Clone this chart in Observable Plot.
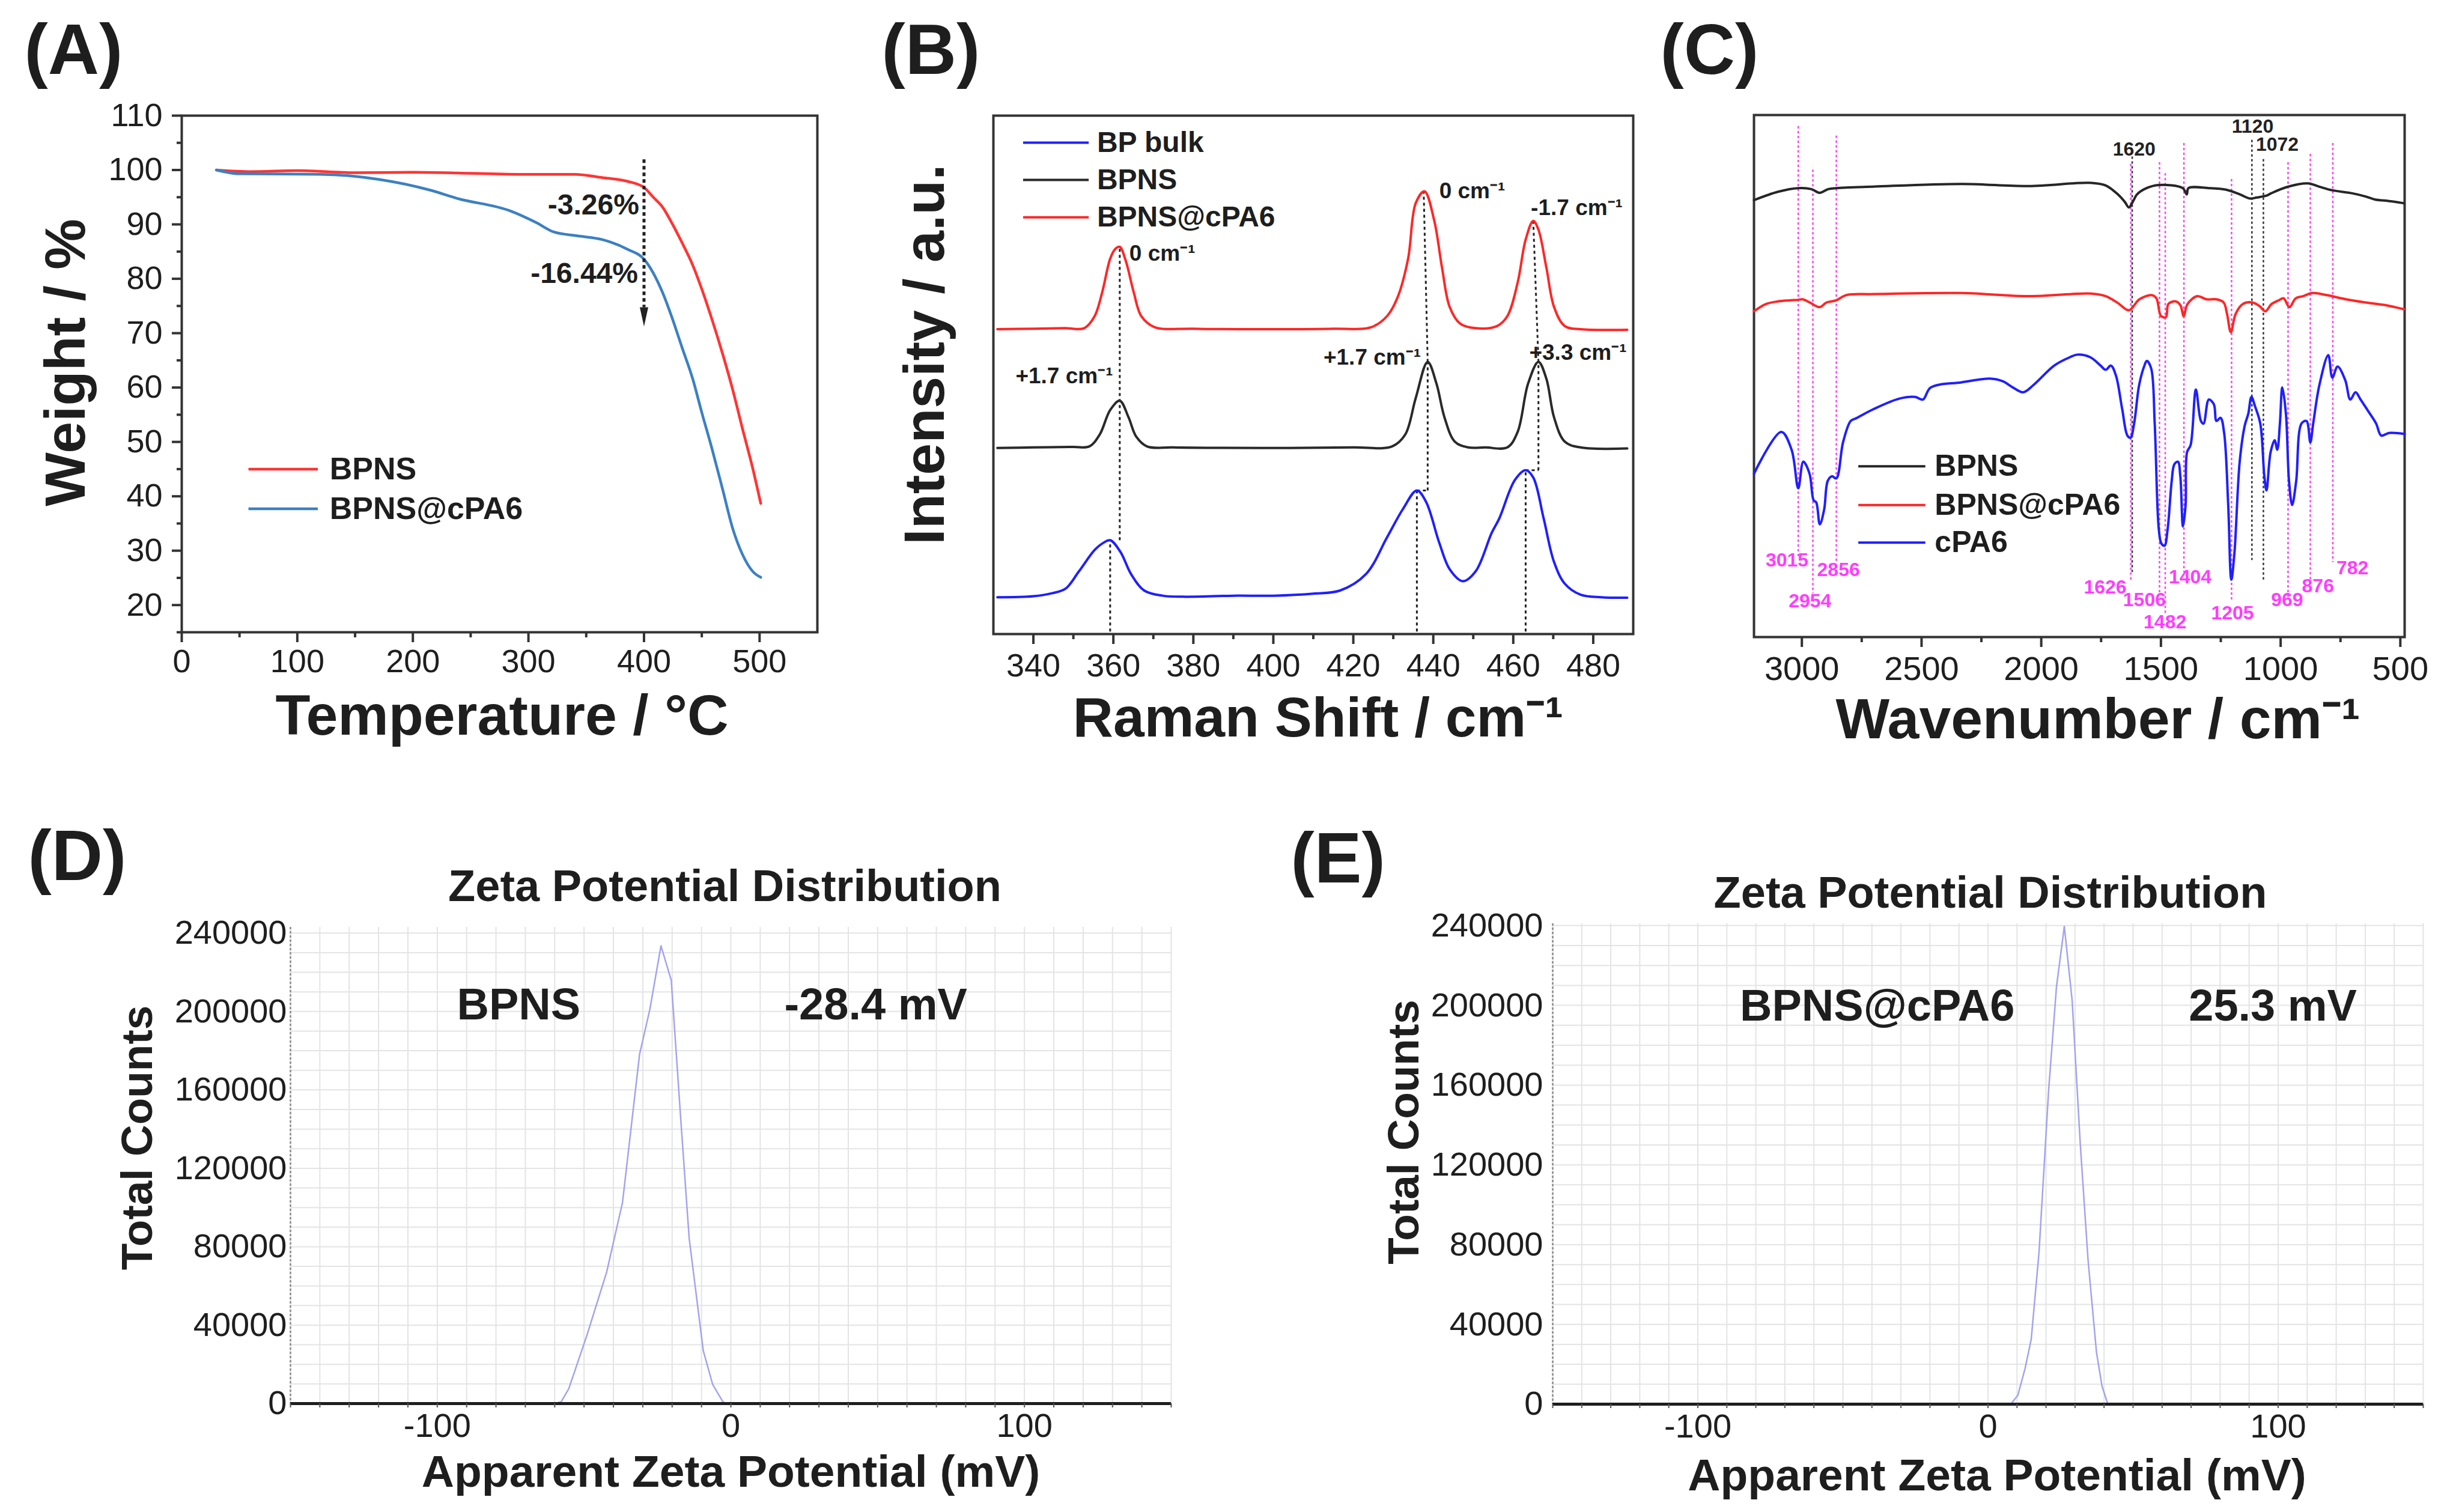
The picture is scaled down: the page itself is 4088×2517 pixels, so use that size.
<!DOCTYPE html>
<html><head><meta charset="utf-8">
<script src="https://cdn.jsdelivr.net/npm/d3@7"></script>
<script src="https://cdn.jsdelivr.net/npm/@observablehq/plot@0.6"></script>
<style>
html,body{margin:0;padding:0;background:#fff;}
#fig{position:relative;width:4088px;height:2517px;background:#fff;overflow:hidden;}
</style></head><body><div id="fig"></div>
<script>
// ---------------- DATA ----------------
// (A) TGA: [temperature °C, weight %]
const tgaBPNS = [[30,100.0],[60,99.7],[100,99.9],[150,99.5],[200,99.6],[250,99.4],[300,99.2],[340,99.2],[364,98.6],[386,97.9],[400,96.8],[408,95.0],[416,93.2],[424,90.3],[433,86.6],[442,82.6],[450,78.1],[459,72.4],[468,66.2],[477,59.4],[485,52.6],[494,45.2],[501,38.7]];
const tgaBPNScPA6 = [[30,100.0],[50,99.3],[120,99.2],[170,98.3],[215,96.3],[238,94.8],[284,92.5],[307,90.3],[322,88.6],[342,87.9],[364,87.2],[386,85.4],[400,83.6],[416,77.5],[424,73.0],[433,67.3],[442,61.7],[450,55.4],[459,48.6],[468,41.3],[477,33.9],[485,29.4],[494,26.2],[501,25.1]];
const tgaTicksX = [0,100,200,300,400,500];
const tgaMinorX = [50,150,250,350,450];
const tgaTicksY = [20,30,40,50,60,70,80,90,100,110];
const tgaMinorY = [15,25,35,45,55,65,75,85,95,105];

// (B) Raman: [shift cm-1, intensity a.u.]
const ramanBulk = [[331,7.1],[340,7.3],[344.8,7.9],[348.1,8.8],[351.4,12.1],[355.3,16.2],[357.5,17.6],[359.2,18.1],[361.8,15.8],[364.4,11.6],[367.7,8.4],[372.3,7.4],[377.5,7.2],[390,7.4],[400,7.4],[410,7.8],[416.7,8.4],[423.2,11.6],[428.4,18.6],[432.4,24.1],[435.9,27.7],[438.2,25.5],[441.5,17.6],[444.1,12.5],[447.4,10.2],[450.6,12.1],[454.6,19.5],[456.5,22.3],[460.4,29.7],[463.1,31.6],[465.0,30.2],[467.6,22.3],[470.2,13.9],[472.9,9.7],[476.8,7.6],[482,7.1],[488.5,7.0]];
const ramanBPNS = [[331,35.9],[340,36.0],[350,36.1],[354.0,36.2],[356.6,38.5],[359.2,43.2],[361.6,45.0],[363.8,41.8],[365.7,38.1],[368.4,36.2],[375,36.0],[400,35.9],[420,36.0],[429.7,36.2],[433.0,38.5],[435.6,45.5],[438.6,52.5],[440.8,48.3],[442.8,41.8],[445.4,37.1],[448.7,36.0],[453,36.0],[458.5,36.0],[461.1,39.0],[463.7,48.3],[466.3,52.5],[468.3,49.2],[470.2,41.8],[472.9,37.1],[476.8,36.0],[488.5,35.8]];
const ramanBPNScPA6 = [[331,58.8],[340,58.9],[348,59.0],[352.7,59.0],[355.3,61.3],[357.2,65.9],[359.2,72.4],[360.5,74.3],[361.6,74.7],[363.1,72.0],[365.1,65.9],[367.0,61.3],[370.3,59.2],[380,58.9],[400,58.8],[415,58.9],[424.5,59.2],[428.4,61.3],[431.1,65.0],[433.7,72.4],[435.6,83.1],[437.8,85.4],[440.2,79.9],[442.2,70.6],[444.1,63.1],[446.7,59.9],[450.6,59.0],[455.9,59.4],[458.5,61.3],[461.1,67.8],[463.1,76.1],[465.0,79.7],[466.3,78.0],[468.3,70.6],[470.2,63.1],[472.9,59.4],[476.8,58.8],[488.5,58.7]];
const ramanGuides = [
  {x1:359.2,y1:0.5,x2:359.2,y2:18.1},{x1:361.6,y1:18.1,x2:361.6,y2:74.7},
  {x1:435.9,y1:0.5,x2:435.9,y2:27.7},{x1:435.9,y1:27.7,x2:438.6,y2:27.7},{x1:438.6,y1:27.7,x2:438.6,y2:52.5},{x1:438.6,y1:52.5,x2:437.6,y2:85.4},
  {x1:463.1,y1:0.5,x2:463.1,y2:31.6},{x1:463.1,y1:31.6,x2:466.3,y2:31.6},{x1:466.3,y1:31.6,x2:466.3,y2:52.5},{x1:466.3,y1:52.5,x2:465.0,y2:79.7}
];
const ramanTicks = [340,360,380,400,420,440,460,480];
const ramanMinor = [350,370,390,410,430,450,470];

// (C) FTIR: [wavenumber cm-1, transmittance a.u.]
const ftirBPNS = [[3200,83.7],[3100,85.3],[3016,86.0],[2960,85.8],[2926,85.1],[2890,85.8],[2856,86.0],[2695,86.3],[2333,86.8],[2052,86.4],[1790,87.0],[1730,86.5],[1680,84.8],[1650,83.3],[1634,82.3],[1615,83.6],[1600,84.8],[1560,86.0],[1509,86.6],[1409,86.0],[1392,84.8],[1385,86.0],[1300,86.0],[1228,85.7],[1170,84.8],[1128,84.0],[1100,84.2],[1057,84.6],[1040,85.0],[967,86.3],[886,86.9],[840,86.3],[786,85.6],[700,85.0],[645,84.4],[605,83.8],[560,83.6],[485,83.1]];
const ftirBPNScPA6 = [[3200,62.4],[3150,63.8],[3100,64.3],[3050,64.5],[3016,64.6],[2997,64.7],[2967,64.1],[2926,63.2],[2897,64.1],[2856,64.5],[2816,65.5],[2700,65.7],[2333,65.9],[2052,65.3],[1790,65.8],[1730,65.3],[1680,64.0],[1634,62.6],[1590,64.7],[1539,65.5],[1519,64.9],[1500,61.5],[1479,61.3],[1469,63.8],[1439,64.3],[1419,63.6],[1405,61.5],[1389,63.8],[1349,65.3],[1309,64.7],[1268,64.7],[1238,64.1],[1224,61.9],[1208,58.4],[1188,61.9],[1158,63.8],[1118,64.1],[1088,63.4],[1064,62.4],[1038,63.8],[1008,64.5],[988,64.9],[963,63.2],[937,64.9],[907,65.3],[867,65.9],[807,65.5],[727,64.7],[646,64.1],[565,63.6],[485,62.8]];
const ftirCPA6 = [[3200,31.3],[3086,39.3],[3043,35.9],[3015,28.5],[2994,33.6],[2968,31.3],[2951,26.2],[2940,25.8],[2925,21.6],[2907,24.4],[2892,29.9],[2875,30.8],[2856,30.4],[2828,37.3],[2796,41.4],[2774,41.9],[2699,43.7],[2591,45.7],[2527,46.0],[2494,45.5],[2462,47.8],[2333,48.8],[2215,49.5],[2161,49.0],[2118,47.8],[2075,46.9],[2032,48.3],[1946,52.0],[1881,53.6],[1849,54.1],[1795,53.6],[1752,52.0],[1731,51.2],[1709,52.0],[1688,50.1],[1662,43.7],[1640,38.6],[1627,38.2],[1612,40.9],[1591,48.3],[1569,52.0],[1559,52.9],[1541,51.5],[1526,40.9],[1509,20.7],[1498,17.9],[1485,17.5],[1472,20.7],[1455,29.9],[1444,33.1],[1429,33.6],[1419,30.8],[1408,21.2],[1397,25.3],[1391,35.4],[1376,36.8],[1354,47.4],[1333,41.4],[1322,40.9],[1300,45.5],[1279,44.6],[1268,41.4],[1251,42.0],[1236,39.1],[1219,25.3],[1206,11.0],[1193,16.1],[1171,33.6],[1150,40.5],[1135,42.8],[1122,46.0],[1107,44.2],[1085,40.9],[1068,30.8],[1059,28.1],[1042,35.4],[1025,37.7],[1014,35.9],[1003,40.9],[993,47.8],[978,42.8],[965,29.9],[952,25.3],[935,29.9],[913,40.9],[892,41.4],[876,37.3],[864,40.9],[838,48.3],[801,54.0],[784,49.7],[762,51.8],[730,49.2],[709,45.5],[687,46.9],[666,45.5],[633,43.2],[601,40.9],[580,38.6],[547,39.1],[482,38.9]];
const bandWn  = [3015,2954,2856,1626,1506,1482,1404,1205,969,876,782];
const bandTop = [97.8,89.5,96.0,90.6,90.9,88.8,94.6,87.7,90.9,92.5,94.6];
const bandBot = [15.2,8.3,14.3,10.6,8.3,4.1,12.4,6.9,7.4,11.0,14.3];
const bandLabelX = [3062,2966,2847,1733,1569,1483,1378,1201,973,844,700];
const bandLabelY = [14.7,6.9,12.9,9.5,7.1,2.8,11.5,4.6,7.1,9.7,13.2];
const bpWn  = [1620,1120,1072];
const bpTop = [92.0,95.2,91.5];
const bpBot = [12.4,14.7,10.6];
const bpLabelX = [1612,1117,1014];
const bpLabelY = [93.4,97.8,94.3];
const ftirTicks = [3000,2500,2000,1500,1000,500];
const ftirMinor = [2750,2250,1750,1250,750];

// (D),(E) Zeta potential: [mV, total counts]
const zetaBPNS = [[-60,0],[-57.8,900],[-55.2,7600],[-49.0,35000],[-42.3,67100],[-36.9,102600],[-31.1,178100],[-27.6,201000],[-23.8,233500],[-20.3,215900],[-16.9,141500],[-14.2,84300],[-9.4,27000],[-6.2,9800],[-2.7,900],[-1.6,0]];
const zetaBPNScPA6 = [[6,0],[8.1,450],[10.3,4500],[12.8,18000],[14.9,32600],[17.6,76500],[20.9,157500],[23.6,209300],[26.3,239600],[29.0,202500],[31.8,130500],[34.5,72000],[37.4,25900],[39.3,9000],[41.2,450],[42,0]];
const zetaTicksX = [-100,0,100];
const zetaTicksY = [0,40000,80000,120000,160000,200000,240000];

// ---------------- RENDER ----------------
const FONT = "'Liberation Sans', Arial, Helvetica, sans-serif";
const fig = document.getElementById("fig");
const AXIS = "#333";
const style = {fontFamily: FONT, color: "#1e1e1e", background: "transparent", overflow: "visible"};
function place(svg, left, top) {
  svg.style.position = "absolute"; svg.style.left = left + "px"; svg.style.top = top + "px";
  fig.appendChild(svg);
}
const X = d => d[0], Y = d => d[1];
const str = d => String(d);
const none = () => "";
const arrowDown = {draw(ctx) { ctx.moveTo(-7,-16); ctx.lineTo(7,-16); ctx.lineTo(0,16); ctx.closePath(); }};
const bold = {fontWeight: "bold"};

// ---- (A) ----
place(Plot.plot({
  width: 1400, height: 1300, marginLeft: 302, marginRight: 40, marginTop: 192, marginBottom: 248,
  x: {domain: [0, 550]}, y: {domain: [15, 110]}, style,
  marks: [
    Plot.axisX({ticks: tgaTicksX, tickSize: 17, tickPadding: 11, fontSize: 54, stroke: AXIS, strokeWidth: 4, tickFormat: str, label: null}),
    Plot.axisX({ticks: tgaMinorX, tickSize: 9, stroke: AXIS, strokeWidth: 4, tickFormat: none, label: null}),
    Plot.axisY({ticks: tgaTicksY, tickSize: 16, tickPadding: 16, fontSize: 54, stroke: AXIS, strokeWidth: 4, tickFormat: str, label: null}),
    Plot.axisY({ticks: tgaMinorY, tickSize: 8, stroke: AXIS, strokeWidth: 4, tickFormat: none, label: null}),
    Plot.frame({stroke: AXIS, strokeWidth: 4}),
    Plot.line(tgaBPNS, {x: X, y: Y, stroke: "#ff3434", strokeWidth: 4.5, curve: "monotone-x"}),
    Plot.line(tgaBPNScPA6, {x: X, y: Y, stroke: "#3b80c2", strokeWidth: 4.5, curve: "monotone-x"}),
    Plot.ruleX([400], {y1: 101.9, y2: 74.7, stroke: "#222", strokeWidth: 5, strokeDasharray: "6,5"}),
    Plot.dot([400], {x: d => d, y: 73, symbol: arrowDown, r: 10, fill: "#222", stroke: "none"}),
    Plot.text(["-3.26%"], {x: 395.8, y: 93.5, textAnchor: "end", fontSize: 48, ...bold}),
    Plot.text(["-16.44%"], {x: 394.8, y: 80.9, textAnchor: "end", fontSize: 48, ...bold}),
    Plot.ruleY([45.0], {x1: 58, x2: 118, stroke: "#ff3434", strokeWidth: 4.5}),
    Plot.ruleY([37.7], {x1: 58, x2: 118, stroke: "#3b80c2", strokeWidth: 4.5}),
    Plot.text(["BPNS"], {x: 128, y: 45.0, textAnchor: "start", fontSize: 52, ...bold}),
    Plot.text(["BPNS@cPA6"], {x: 128, y: 37.7, textAnchor: "start", fontSize: 52, ...bold}),
    Plot.text(["(A)"], {frameAnchor: "top-left", dx: -262, dy: -70, textAnchor: "start", lineAnchor: "bottom", fontSize: 118, ...bold}),
    Plot.text(["Temperature / °C"], {frameAnchor: "bottom", dx: 4, dy: 170, textAnchor: "middle", lineAnchor: "bottom", fontSize: 95, ...bold}),
    Plot.text(["Weight / %"], {frameAnchor: "left", dx: -162, dy: -19, rotate: -90, textAnchor: "middle", lineAnchor: "bottom", fontSize: 95, ...bold})
  ]
}), 0, 0);

// ---- (B) ----
const RB = "#1f1fff", RK = "#2a2a2a", RR = "#ff2626";
place(Plot.plot({
  width: 1350, height: 1300, marginLeft: 253, marginRight: 32, marginTop: 192, marginBottom: 245,
  x: {domain: [330, 490]}, y: {domain: [0, 100], axis: null}, style,
  marks: [
    Plot.axisX({ticks: ramanTicks, tickSize: 17, tickPadding: 15, fontSize: 54, stroke: AXIS, strokeWidth: 4, tickFormat: str, label: null}),
    Plot.axisX({ticks: ramanMinor, tickSize: 9, stroke: AXIS, strokeWidth: 4, tickFormat: none, label: null}),
    Plot.frame({stroke: AXIS, strokeWidth: 4}),
    Plot.link(ramanGuides, {x1: "x1", y1: "y1", x2: "x2", y2: "y2", stroke: "#222", strokeWidth: 3, strokeDasharray: "5,5"}),
    Plot.line(ramanBulk, {x: X, y: Y, stroke: RB, strokeWidth: 4, curve: "catmull-rom"}),
    Plot.line(ramanBPNS, {x: X, y: Y, stroke: RK, strokeWidth: 4, curve: "catmull-rom"}),
    Plot.line(ramanBPNScPA6, {x: X, y: Y, stroke: RR, strokeWidth: 4, curve: "catmull-rom"}),
    Plot.ruleY([94.8], {x1: 337.5, x2: 353.9, stroke: RB, strokeWidth: 4}),
    Plot.ruleY([87.6], {x1: 337.5, x2: 353.9, stroke: RK, strokeWidth: 4}),
    Plot.ruleY([80.4], {x1: 337.5, x2: 353.9, stroke: RR, strokeWidth: 4}),
    Plot.text(["BP bulk"], {x: 355.9, y: 94.8, textAnchor: "start", fontSize: 48, ...bold}),
    Plot.text(["BPNS"], {x: 355.9, y: 87.6, textAnchor: "start", fontSize: 48, ...bold}),
    Plot.text(["BPNS@cPA6"], {x: 355.9, y: 80.4, textAnchor: "start", fontSize: 48, ...bold}),
    Plot.text(["0 cm⁻¹"], {x: 364.0, y: 73.4, textAnchor: "start", fontSize: 37, ...bold}),
    Plot.text(["0 cm⁻¹"], {x: 441.5, y: 85.4, textAnchor: "start", fontSize: 37, ...bold}),
    Plot.text(["-1.7 cm⁻¹"], {x: 464.4, y: 82.2, textAnchor: "start", fontSize: 37, ...bold}),
    Plot.text(["+1.7 cm⁻¹"], {x: 359.9, y: 49.7, textAnchor: "end", fontSize: 37, ...bold}),
    Plot.text(["+1.7 cm⁻¹"], {x: 436.9, y: 53.4, textAnchor: "end", fontSize: 37, ...bold}),
    Plot.text(["+3.3 cm⁻¹"], {x: 464.0, y: 54.3, textAnchor: "start", fontSize: 37, ...bold}),
    Plot.text(["(B)"], {frameAnchor: "top-left", dx: -186, dy: -70, textAnchor: "start", lineAnchor: "bottom", fontSize: 118, ...bold}),
    Plot.text(["Raman Shift / cm⁻¹"], {frameAnchor: "bottom", dx: 8, dy: 170, textAnchor: "middle", lineAnchor: "bottom", fontSize: 93, ...bold}),
    Plot.text(["Intensity / a.u."], {frameAnchor: "left", dx: -83, dy: -34, rotate: -90, textAnchor: "middle", lineAnchor: "bottom", fontSize: 95, ...bold})
  ]
}), 1400, 0);

// ---- (C) ----
const MAG = "#ff3cff";
place(Plot.plot({
  width: 1338, height: 1300, marginLeft: 169, marginRight: 86, marginTop: 191, marginBottom: 240,
  x: {domain: [3200, 482]}, y: {domain: [0, 100], axis: null}, style,
  marks: [
    Plot.axisX({ticks: ftirTicks, tickSize: 17, tickPadding: 15, fontSize: 56, stroke: AXIS, strokeWidth: 4, tickFormat: str, label: null}),
    Plot.axisX({ticks: ftirMinor, tickSize: 9, stroke: AXIS, strokeWidth: 4, tickFormat: none, label: null}),
    Plot.frame({stroke: AXIS, strokeWidth: 4}),
    Plot.ruleX(bandWn, {x: d => d, y1: (d, i) => bandTop[i], y2: (d, i) => bandBot[i], stroke: MAG, strokeWidth: 2.5, strokeDasharray: "4,4"}),
    Plot.ruleX(bpWn, {x: d => d, y1: (d, i) => bpTop[i], y2: (d, i) => bpBot[i], stroke: "#333", strokeWidth: 2.5, strokeDasharray: "4,4"}),
    Plot.line(ftirBPNS, {x: X, y: Y, stroke: "#262626", strokeWidth: 4, curve: "catmull-rom"}),
    Plot.line(ftirBPNScPA6, {x: X, y: Y, stroke: "#ff2626", strokeWidth: 4, curve: "catmull-rom"}),
    Plot.line(ftirCPA6, {x: X, y: Y, stroke: "#1f1fff", strokeWidth: 4, curve: "catmull-rom"}),
    Plot.text(bandWn, {x: bandLabelX, y: bandLabelY, text: d => String(d), fill: MAG, fontSize: 32, ...bold}),
    Plot.text(bpWn, {x: bpLabelX, y: bpLabelY, text: d => String(d), fill: "#222", fontSize: 32, ...bold}),
    Plot.ruleY([32.7], {x1: 2763, x2: 2483, stroke: "#262626", strokeWidth: 4}),
    Plot.ruleY([25.3], {x1: 2763, x2: 2483, stroke: "#ff2626", strokeWidth: 4}),
    Plot.ruleY([18.1], {x1: 2763, x2: 2483, stroke: "#1f1fff", strokeWidth: 4}),
    Plot.text(["BPNS"], {x: 2445, y: 32.7, textAnchor: "start", fontSize: 50, ...bold}),
    Plot.text(["BPNS@cPA6"], {x: 2445, y: 25.3, textAnchor: "start", fontSize: 50, ...bold}),
    Plot.text(["cPA6"], {x: 2445, y: 18.1, textAnchor: "start", fontSize: 50, ...bold}),
    Plot.text(["(C)"], {frameAnchor: "top-left", dx: -156, dy: -69, textAnchor: "start", lineAnchor: "bottom", fontSize: 118, ...bold}),
    Plot.text(["Wavenumber / cm⁻¹"], {frameAnchor: "bottom", dx: 31, dy: 168, textAnchor: "middle", lineAnchor: "bottom", fontSize: 95, ...bold})
  ]
}), 2750, 0);

// ---- (D),(E) zeta ----
function zetaPanel(data, yMax, m, lab, name, value, nameX, valueX, labY, off) {
  return Plot.plot({
    width: 2044, height: 1217, marginLeft: m[0], marginRight: m[1], marginTop: m[2], marginBottom: m[3],
    x: {domain: [-150, 150]}, y: {domain: [0, yMax]}, style,
    marks: [
      Plot.gridX({ticks: d3.range(-150, 151, 10), stroke: "#e4e4e4", strokeOpacity: 1, strokeWidth: 2}),
      Plot.gridY({ticks: d3.range(0, 240001, 10000), stroke: "#e4e4e4", strokeOpacity: 1, strokeWidth: 2}),
      Plot.ruleX([-150], {stroke: "#8a8a8a", strokeWidth: 2.5, strokeDasharray: "4,3"}),
      Plot.line(data, {x: X, y: Y, stroke: "#a3a3ee", strokeWidth: 2.5}),
      Plot.ruleY([0], {stroke: "#1e1e1e", strokeWidth: 5}),
      Plot.axisX({ticks: d3.range(-150, 151, 10), tickSize: 7, stroke: "#555", strokeWidth: 2, tickFormat: none, label: null}),
      Plot.axisX({ticks: zetaTicksX, tickSize: 0, tickPadding: 16, fontSize: 56, tickFormat: str, label: null}),
      Plot.axisY({ticks: zetaTicksY, tickSize: 0, tickPadding: off.tp, fontSize: 56, tickFormat: str, label: null}),
      Plot.text([name], {x: nameX, y: labY, textAnchor: "start", lineAnchor: "bottom", fontSize: 74, ...bold}),
      Plot.text([value], {x: valueX, y: labY, textAnchor: "start", lineAnchor: "bottom", fontSize: 74, ...bold}),
      Plot.text(["Zeta Potential Distribution"], {frameAnchor: "top", dx: off.tdx, dy: off.tdy, textAnchor: "middle", lineAnchor: "bottom", fontSize: 74, ...bold}),
      Plot.text(["Apparent Zeta Potential (mV)"], {frameAnchor: "bottom", dx: off.xdx, dy: off.xdy, textAnchor: "middle", lineAnchor: "bottom", fontSize: 75, ...bold}),
      Plot.text(["Total Counts"], {frameAnchor: "left", dx: off.ydx, dy: off.ydy, rotate: -90, textAnchor: "middle", lineAnchor: "bottom", fontSize: 73, ...bold}),
      Plot.text([lab], {frameAnchor: "top-left", dx: off.ldx, dy: off.ldy, textAnchor: "start", lineAnchor: "bottom", fontSize: 118, ...bold})
    ]
  });
}
place(zetaPanel(zetaBPNS, 243000, [483, 95, 243, 181], "(D)", "BPNS", "-28.4 mV", -93.3, 18.2, 195900,
  {tp: 6, tdx: -10, tdy: -44, xdx: 0, xdy: 138, ydx: -231, ydy: -46, ldx: -437, ldy: -79}), 0, 1300);
place(zetaPanel(zetaBPNScPA6, 241000, [540, 55, 237, 180], "(E)", "BPNS@cPA6", "25.3 mV", -85.5, 69.2, 192200,
  {tp: 16, tdx: 4, tdy: -27, xdx: 15, xdy: 143, ydx: -224, ydy: -53, ldx: -436, ldy: -69}), 2044, 1300);
</script></body></html>
